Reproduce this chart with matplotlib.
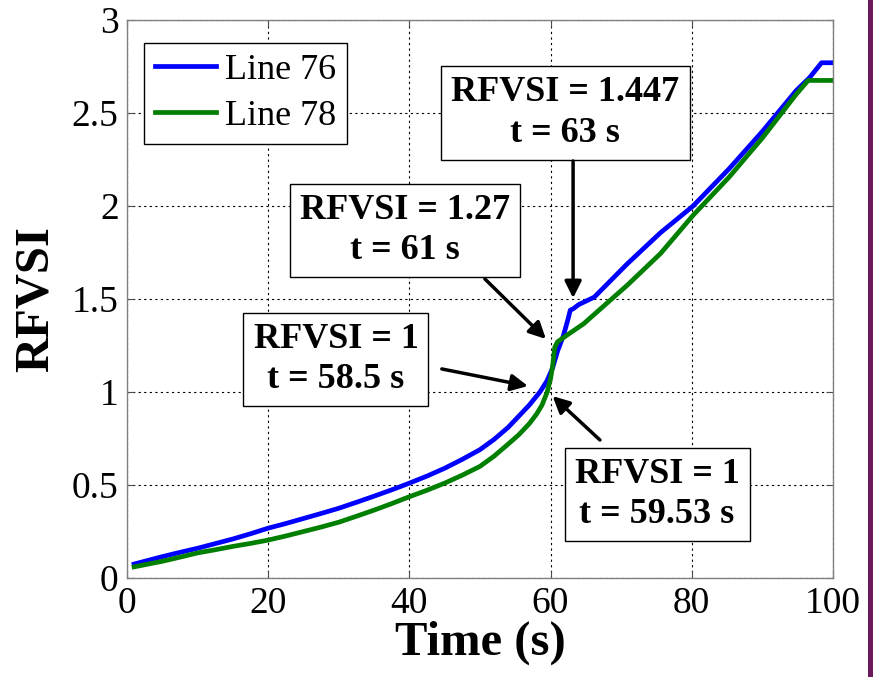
import numpy as np
import matplotlib
matplotlib.use('Agg')
import matplotlib.pyplot as plt
from matplotlib.patches import Rectangle

# RFVSI index over time for the two lines
t76 = [1, 3, 5, 7.5, 10, 12.5, 15, 17.5, 20, 22.5, 25, 27.5, 30, 32.5, 35, 37.5, 40, 42.5, 45, 47.5,
       50, 52, 54, 55.5, 57, 58.5, 59.5, 60.3, 61, 61.8, 62.4, 62.8, 63.2, 64,
       66.2, 70.9, 75.6, 80.2, 85.3, 90, 94.8, 96.7, 98.4, 100]
rfvsi76 = [0.075, 0.095, 0.115, 0.138, 0.16, 0.185, 0.21, 0.238, 0.268, 0.293, 0.32, 0.347, 0.375, 0.407,
           0.44, 0.474, 0.51, 0.548, 0.59, 0.638, 0.69, 0.745, 0.81, 0.87, 0.93, 1.0, 1.06, 1.13, 1.22,
           1.30, 1.38, 1.44, 1.447, 1.47, 1.51, 1.69, 1.857, 2.0, 2.2, 2.40, 2.62, 2.69, 2.77, 2.77]

t78 = [1, 3, 5, 7.5, 10, 12.5, 15, 17.5, 20, 22.5, 25, 27.5, 30, 32.5, 35, 37.5, 40, 42.5, 45, 47.5,
       50, 52, 54, 55.5, 57, 58, 58.8, 59.53, 60.0, 60.3, 60.6, 61, 62.5, 64.7,
       70.9, 75.6, 80.2, 85.3, 90, 94.8, 96.5, 100]
rfvsi78 = [0.06, 0.075, 0.09, 0.112, 0.135, 0.152, 0.17, 0.186, 0.204, 0.226, 0.25, 0.274, 0.30, 0.332,
           0.365, 0.40, 0.437, 0.472, 0.51, 0.553, 0.60, 0.655, 0.72, 0.77, 0.83, 0.88, 0.93, 1.0, 1.07,
           1.14, 1.24, 1.27, 1.31, 1.367, 1.575, 1.745, 1.95, 2.155, 2.365, 2.60, 2.675, 2.675]

# callouts: label text, box centre, arrow start, arrow tip
notes = [
    ('RFVSI = 1.447\nt = 63 s', (62.1, 2.50), (63.2, 2.242), (63.2, 1.505)),
    ('RFVSI = 1.27\nt = 61 s', (39.4, 1.868), (50.7, 1.608), (59.35, 1.285)),
    ('RFVSI = 1\nt = 58.5 s', (29.6, 1.175), (44.6, 1.124), (56.8, 1.032)),
    ('RFVSI = 1\nt = 59.53 s', (75.1, 0.449), (67.0, 0.742), (60.3, 0.978)),
]

xticks = [0, 20, 40, 60, 80, 100]
yticks = [0, 0.5, 1, 1.5, 2, 2.5, 3]
ytick_labels = ['0', '0.5', '1', '1.5', '2', '2.5', '3']

plt.rcParams['font.family'] = 'serif'
plt.rcParams['font.serif'] = ['Liberation Serif', 'DejaVu Serif']

fig = plt.figure(figsize=(8.73, 6.77), dpi=100)
ax = fig.add_axes([0.1455, 0.1462, 0.8085, 0.8243])

ax.plot(t76, rfvsi76, color='#0000ff', lw=3.4, label='Line 76')
ax.plot(t78, rfvsi78, color='#007f00', lw=3.4, label='Line 78')

ax.set_xlim(0, 100)
ax.set_ylim(0, 3)
ax.set_xticks(xticks)
ax.set_yticks(yticks)
ax.set_yticklabels(ytick_labels)
ax.tick_params(direction='in', top=True, right=True, length=5, width=0.8,
               labelsize=27, pad=6, color='0.3')
ax.grid(True, color='k', linestyle=(0, (2, 3)), lw=0.8)
for sp in ax.spines.values():
    sp.set_color('0.5')
    sp.set_linewidth(1)

ax.set_xlabel('Time (s)', fontsize=35, fontweight='bold', labelpad=0)
ax.set_ylabel('RFVSI', fontsize=35, fontweight='bold', labelpad=10)

leg = ax.legend(loc='upper left', bbox_to_anchor=(0.024, 0.959), borderaxespad=0,
                fontsize=26, handlelength=1.7, handletextpad=0.25, labelspacing=0.35,
                borderpad=0.3, fancybox=False, framealpha=1, edgecolor='k')
leg.get_frame().set_linewidth(1)

for label, center, start, tip in notes:
    ax.text(center[0], center[1], label, ha='center', va='center', multialignment='center',
            fontsize=26, fontweight='bold', linespacing=1.3,
            bbox=dict(boxstyle='square,pad=0.28', fc='white', ec='k', lw=1), zorder=5)
    ax.annotate('', xy=tip, xytext=start,
                arrowprops=dict(arrowstyle='-|>', color='k', lw=2.5, mutation_scale=25,
                                shrinkA=0, shrinkB=0), zorder=6)

# purple strip along the right edge
fig.add_artist(Rectangle((868 / 873, 0), 5 / 873, 1, transform=fig.transFigure,
                         color='#6a1a5a', lw=0))

fig.savefig('out.png', dpi=100)
